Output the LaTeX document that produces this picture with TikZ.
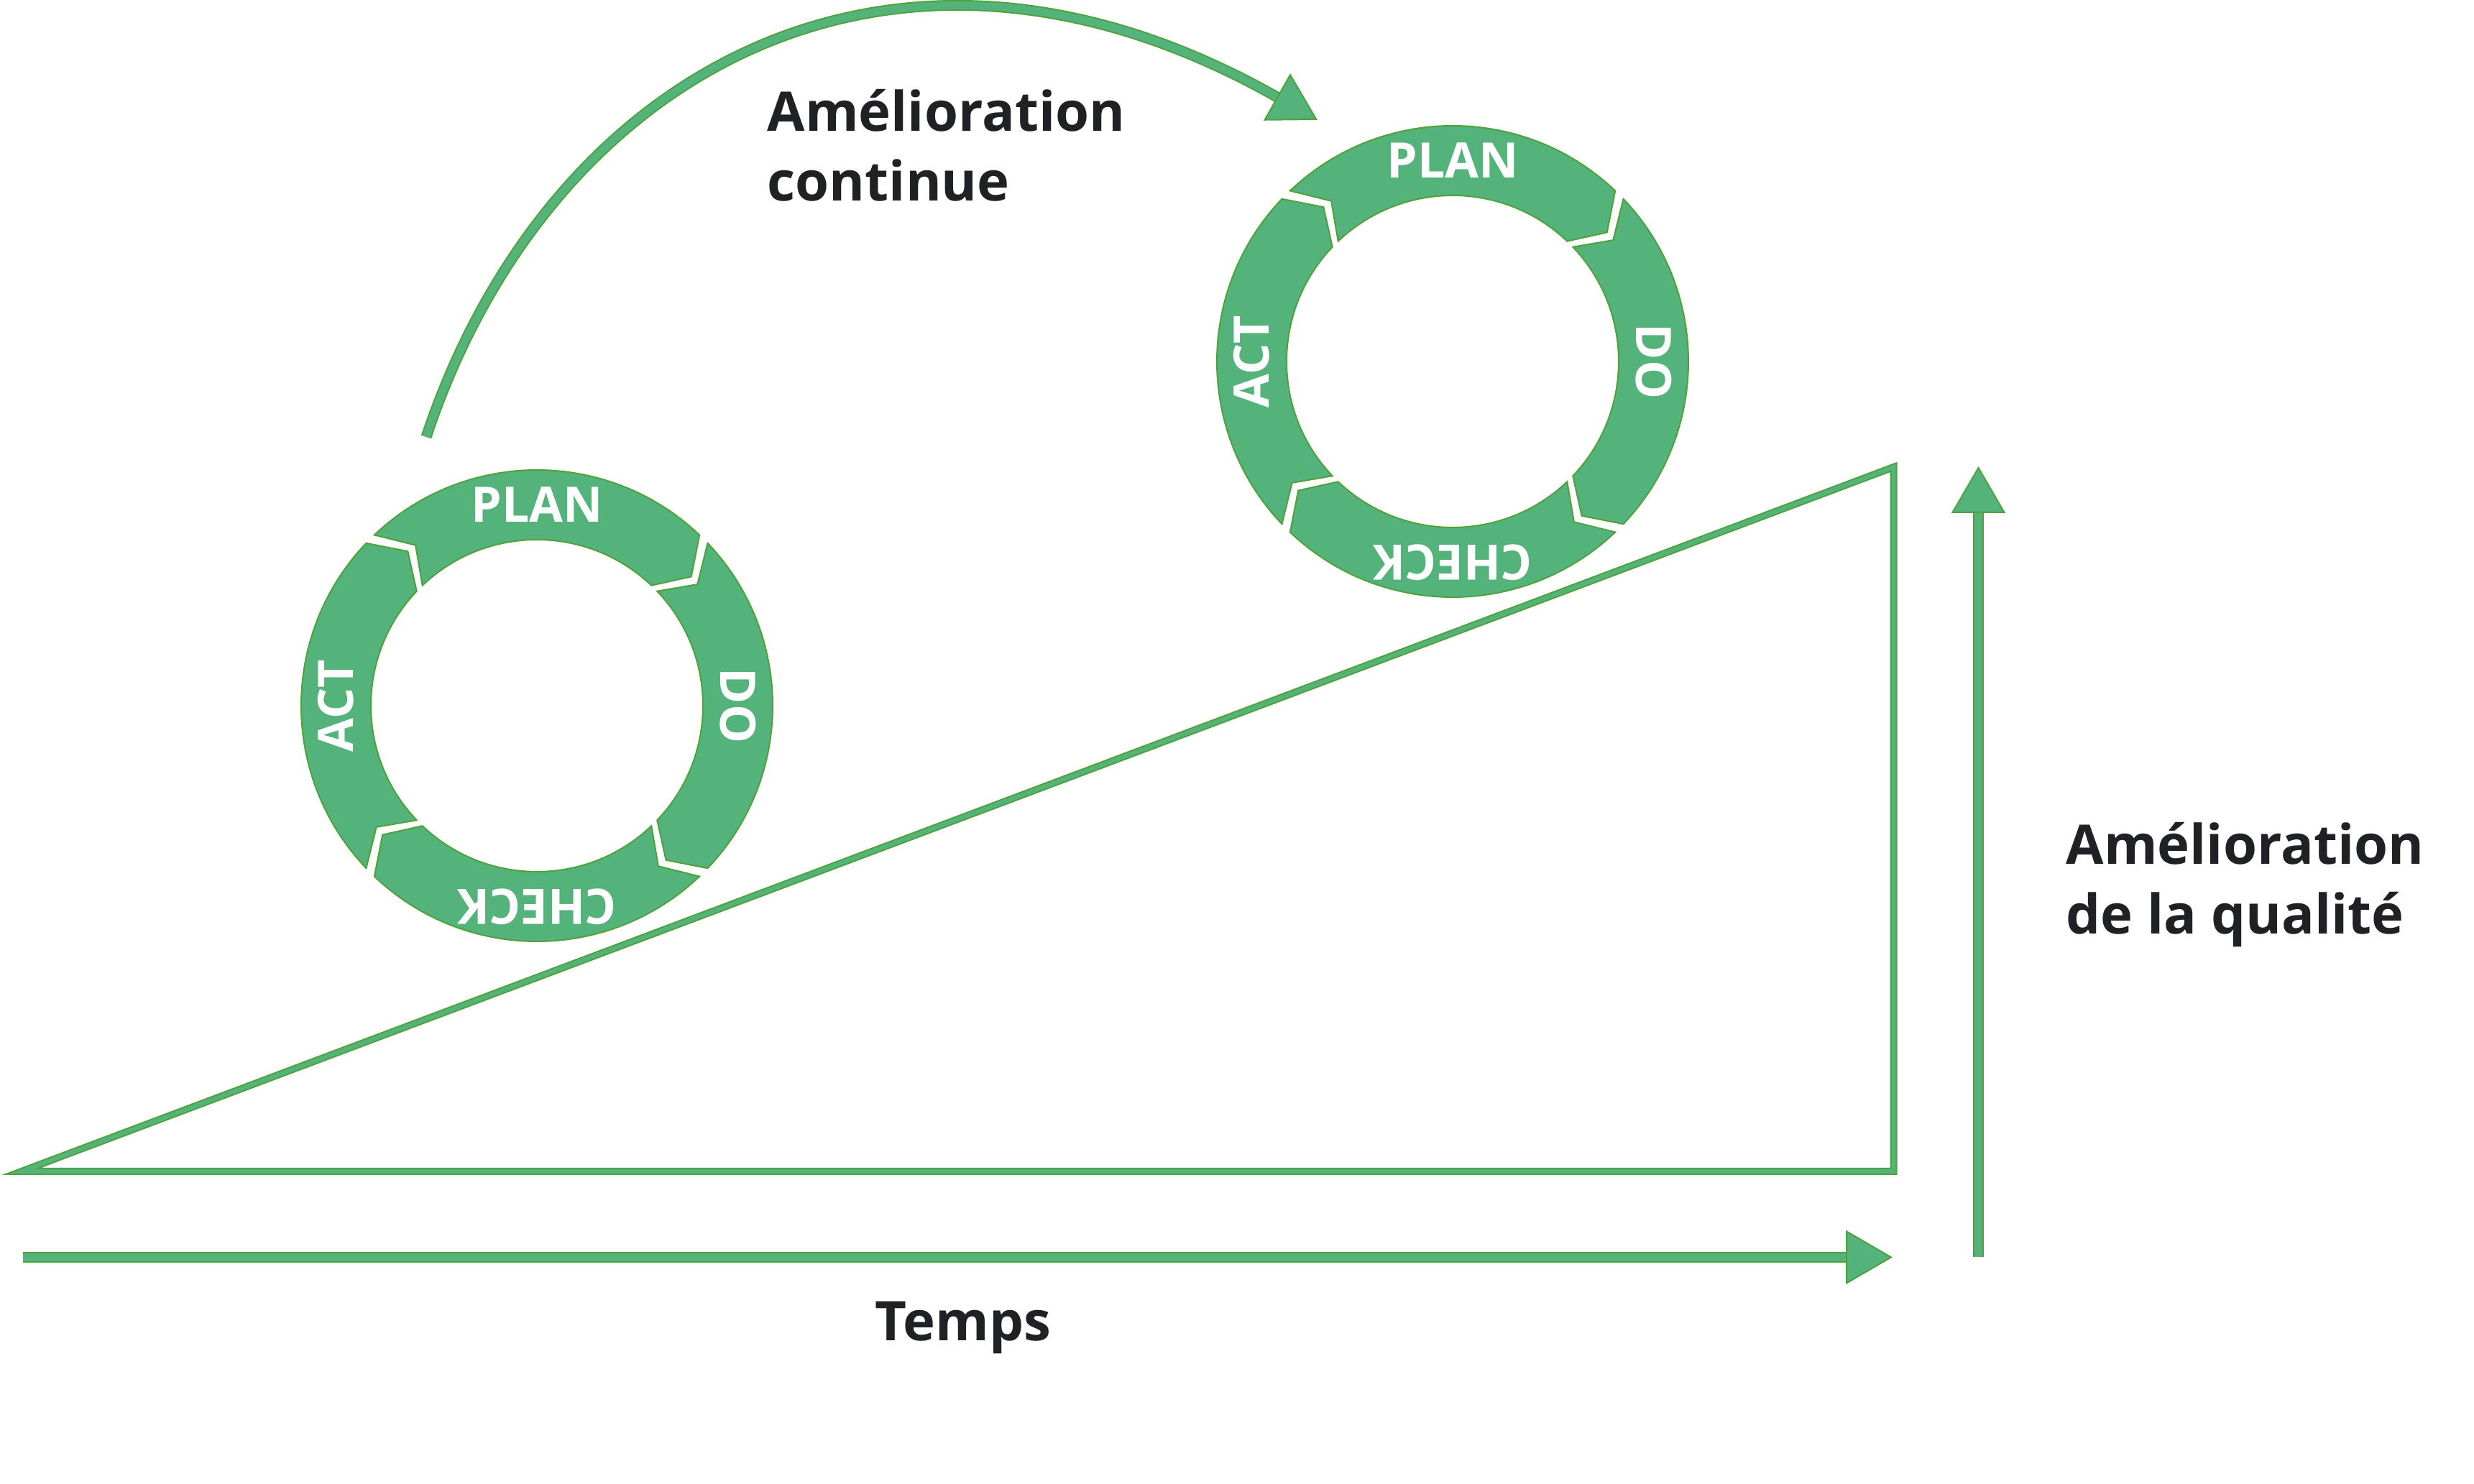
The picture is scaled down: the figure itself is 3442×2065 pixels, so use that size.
\documentclass[tikz,border=0pt]{standalone}
\usepackage{fontspec}
\setmainfont{Open Sans}
\usetikzlibrary{arrows.meta}

\definecolor{grfill}{RGB}{84,179,123}
\definecolor{grline}{RGB}{78,162,58}
\definecolor{txtgray}{RGB}{32,33,36}

\newcommand{\Rout}{328}
\newcommand{\Rin}{231}
\newcommand{\Rmid}{280}
\newcommand{\gp}{1.4}
\newcommand{\tp}{6.5}

\tikzset{
  segment/.style={fill=grfill, draw=grline, line width=0.5pt, line join=miter},
  wheeltxt/.style={text=white, font=\bfseries\fontsize{17}{17}\selectfont, inner sep=0pt},
  ramp/.style={draw=grline, double=grfill, line width=0.5pt, double distance=1.5pt, line join=miter},
  flow/.style={draw=grline, double=grfill, line width=0.5pt, double distance=2.75pt,
    -{Triangle[length=16.25pt, width=18.75pt, fill=grfill, line width=0.5pt]}},
  lbl/.style={text=txtgray, font=\bfseries\fontsize{19}{24}\selectfont, inner sep=0pt, anchor=base west},
  pics/pdca/.style={code={
    \foreach \ang/\word in {90/PLAN,0/DO,-90/CHECK,180/ACT}{
      \pgfmathsetmacro{\ta}{\ang+45-\gp}
      \pgfmathsetmacro{\la}{\ang-45+\gp}
      \filldraw[segment] (\ta:\Rout) arc[start angle=\ta, end angle=\la, radius=\Rout]
        -- ({\la-\tp}:\Rmid) -- (\la:\Rin) arc[start angle=\la, end angle=\ta, radius=\Rin]
        -- ({\ta-\tp}:\Rmid) -- cycle;
      \node[wheeltxt, rotate=\ang-90] (-\word) at (\ang:\Rmid) {\word};
    }
  }}
}

\begin{document}
\begin{tikzpicture}[x=0.25pt,y=0.25pt]
\useasboundingbox (0,0) rectangle (3442,2065);

%Shape: Triangle [ramp]
\coordinate (rampL) at (30,435);
\coordinate (rampR) at (2634.5,435);
\coordinate (rampT) at (2634.5,1415);
\draw[ramp] (rampL) -- (rampR) -- (rampT) -- cycle;

%Straight Lines [time axis]
\coordinate (t0) at (32,315.5);
\coordinate (t1) at (2633,315.5);
\draw[flow] (t0) -- (t1);

%Straight Lines [quality axis]
\coordinate (q0) at (2752.5,316);
\coordinate (q1) at (2752.5,1416);
\draw[flow] (q0) -- (q1);

%Curve Lines [continuous improvement]
\coordinate (c0) at (593,1457);
\coordinate (c1) at (1833,1898);
\draw[flow] (c0) .. controls (760,1960) and (1238,2235) .. (c1);

%Shape: PDCA wheels
\pic (low) at (747,1083) {pdca};
\pic (high) at (2021,1562) {pdca};

% Text Node
\node[lbl] (cont1) at (1067,1882) {Amélioration};
% Text Node
\node[lbl] (cont2) at (1067,1785) {continue};
% Text Node
\node[lbl] (qual1) at (2874,862) {Amélioration};
% Text Node
\node[lbl] (qual2) at (2874,765) {de la qualité};
% Text Node
\node[lbl] (temps) at (1217,199) {Temps};

\end{tikzpicture}
\end{document}
